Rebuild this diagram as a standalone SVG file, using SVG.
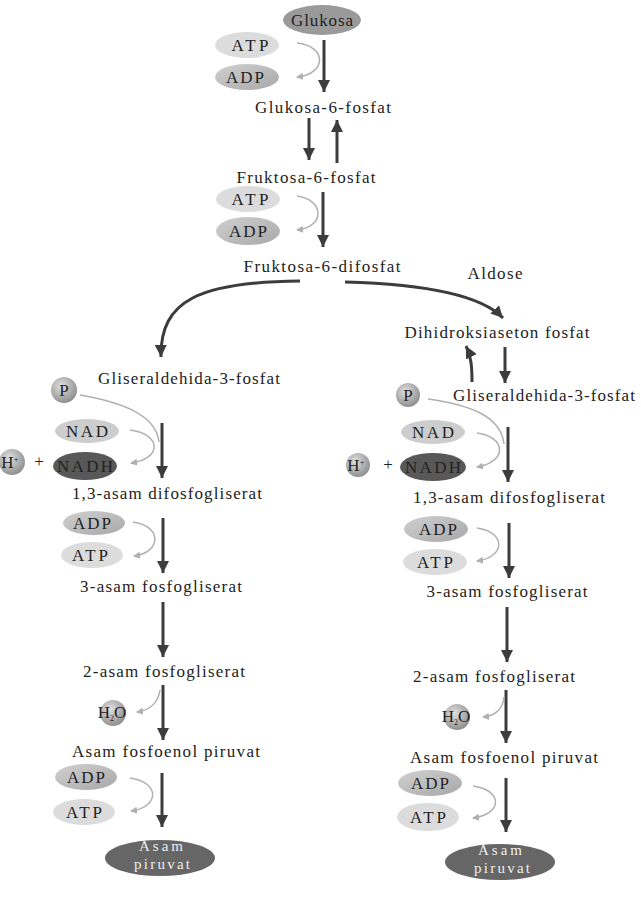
<svg xmlns="http://www.w3.org/2000/svg" width="641" height="911" viewBox="0 0 641 911">
<defs>
<marker id="ah" markerUnits="userSpaceOnUse" markerWidth="12" markerHeight="12" refX="12" refY="6" orient="auto"><path d="M0,0 L12,6 L0,12 z" fill="#3c3c3c"/></marker>
<marker id="sh" markerUnits="userSpaceOnUse" markerWidth="7" markerHeight="7" refX="6" refY="3.5" orient="auto"><path d="M0,0 L7,3.5 L0,7 z" fill="#b0b0b0"/></marker>
<radialGradient id="gball" cx="0.4" cy="0.35" r="0.7"><stop offset="0" stop-color="#e0e0e0"/><stop offset="1" stop-color="#8a8a8a"/></radialGradient>
<linearGradient id="gadp" x1="0" y1="0" x2="1" y2="1"><stop offset="0" stop-color="#d0d0d0"/><stop offset="1" stop-color="#a8a8a8"/></linearGradient>
<style>
.t{font-family:"Liberation Serif","Times New Roman",serif;font-size:17px;fill:#222;text-anchor:middle}
.e{font-family:"Liberation Serif","Times New Roman",serif;font-size:17px;fill:#222;text-anchor:middle}
.w{font-family:"Liberation Serif","Times New Roman",serif;font-size:15px;fill:#eee;text-anchor:middle}
.atp{fill:#dcdcdc}
.adp{fill:url(#gadp)}
.nad{fill:#cdcdcd}
.nadh{fill:#585858}
.ball{fill:url(#gball)}
.main{stroke:#3c3c3c;stroke-width:3;fill:none;marker-end:url(#ah)}
.thin{stroke:#b0b0b0;stroke-width:1.5;fill:none}
.tha{stroke:#b0b0b0;stroke-width:1.5;fill:none;marker-end:url(#sh)}
</style>
</defs>
<rect width="641" height="911" fill="#ffffff"/>

<g id="connectors">
<path class="main" d="M324,40 L324,92"/>
<path class="tha" d="M297,43 C327,46 327,74 297,77"/>
<path class="main" d="M309,118 L309,160"/>
<path class="main" d="M337,163 L337,120"/>
<path class="main" d="M323,192 L323,247"/>
<path class="tha" d="M297,196 C325,200 325,227 297,230"/>
<path class="main" d="M300,281 C200,282 160,300 161,357"/>
<path class="main" d="M345,282 C420,284 480,294 503,318"/>
<path class="main" d="M505,347 L505,383"/>
<path class="main" d="M472,382 C472,366 471,356 466,346"/>
<path class="thin" d="M80,395 C120,402 156,414 159,442"/>
<path class="main" d="M162,423 L162,478"/>
<path class="tha" d="M130,430 C162,434 162,459 131,463"/>
<path class="main" d="M163,518 L163,573"/>
<path class="tha" d="M133,522 C162,526 162,552 134,556"/>
<path class="main" d="M163,602 L163,657"/>
<path class="main" d="M163,685 L163,740"/>
<path class="tha" d="M160,690 C158,704 150,710 137,712"/>
<path class="main" d="M162,773 L162,827"/>
<path class="tha" d="M130,778 C160,782 160,807 131,811"/>
<path class="thin" d="M428,399 C470,405 501,416 504,444"/>
<path class="main" d="M508,427 L508,482"/>
<path class="tha" d="M477,433 C507,437 507,462 477,467"/>
<path class="main" d="M509,523 L509,578"/>
<path class="tha" d="M477,528 C506,532 506,557 477,561"/>
<path class="main" d="M507,607 L507,662"/>
<path class="main" d="M506,690 L506,743"/>
<path class="tha" d="M504,697 C503,709 495,716 483,717"/>
<path class="main" d="M506,778 L506,832"/>
<path class="tha" d="M473,786 C503,790 503,814 473,818"/>
</g>

<g id="glukosa"><ellipse cx="322" cy="20" rx="39" ry="15" fill="#9a9a9a"/><text class="t" x="322" y="26" textLength="62" lengthAdjust="spacing">Glukosa</text></g>
<g id="atp1"><ellipse class="atp" cx="247" cy="45" rx="32" ry="13"/><text class="e" x="250" y="51" textLength="37" lengthAdjust="spacing">ATP</text></g>
<g id="adp1"><ellipse class="adp" cx="247" cy="77" rx="32" ry="13"/><text class="e" x="245" y="83" textLength="38" lengthAdjust="spacing">ADP</text></g>
<g id="g6p"><text class="t" x="323" y="113" textLength="136" lengthAdjust="spacing">Glukosa-6-fosfat</text></g>
<g id="f6p"><text class="t" x="306" y="183" textLength="139" lengthAdjust="spacing">Fruktosa-6-fosfat</text></g>
<g id="atp2"><ellipse class="atp" cx="248" cy="199" rx="32" ry="13"/><text class="e" x="250" y="205" textLength="37" lengthAdjust="spacing">ATP</text></g>
<g id="adp2"><ellipse class="adp" cx="248" cy="231" rx="32" ry="14"/><text class="e" x="248" y="237" textLength="38" lengthAdjust="spacing">ADP</text></g>
<g id="f16"><text class="t" x="322" y="272" textLength="157" lengthAdjust="spacing">Fruktosa-6-difosfat</text></g>
<g id="aldose"><text class="t" x="495" y="279" textLength="55" lengthAdjust="spacing">Aldose</text></g>
<g id="dhap"><text class="t" x="497" y="338" textLength="185" lengthAdjust="spacing">Dihidroksiaseton fosfat</text></g>

<g id="gap-l"><text class="t" x="189" y="384" textLength="182" lengthAdjust="spacing">Gliseraldehida-3-fosfat</text></g>
<g id="p-l"><circle class="ball" cx="64" cy="390" r="13"/><text class="t" x="64" y="396" font-size="15">P</text></g>
<g id="nad-l"><ellipse class="nad" cx="87" cy="431" rx="32" ry="12"/><text class="e" x="87" y="437" textLength="42" lengthAdjust="spacing">NAD</text></g>
<g id="h-l"><circle class="ball" cx="12" cy="462" r="13"/><text class="t" x="10" y="468" font-size="15">H<tspan font-size="9" dy="-6">+</tspan></text><text class="t" x="39" y="467" fill="#777" font-size="12">+</text></g>
<g id="nadh-l"><ellipse class="nadh" cx="85" cy="466" rx="32" ry="14"/><text class="e" x="85" y="472" textLength="56" lengthAdjust="spacing">NADH</text></g>
<g id="bpg-l"><text class="t" x="167" y="499" textLength="190" lengthAdjust="spacing">1,3-asam difosfogliserat</text></g>
<g id="adp-l1"><ellipse class="adp" cx="94" cy="523" rx="31" ry="12"/><text class="e" x="92" y="529" textLength="38" lengthAdjust="spacing">ADP</text></g>
<g id="atp-l1"><ellipse class="atp" cx="92" cy="555" rx="31" ry="13"/><text class="e" x="90" y="561" textLength="36" lengthAdjust="spacing">ATP</text></g>
<g id="pg3-l"><text class="t" x="161" y="592" textLength="162" lengthAdjust="spacing">3-asam fosfogliserat</text></g>
<g id="pg2-l"><text class="t" x="164" y="677" textLength="162" lengthAdjust="spacing">2-asam fosfogliserat</text></g>
<g id="h2o-l"><circle class="ball" cx="113" cy="713" r="13"/><text class="t" x="112" y="718" font-size="15">H<tspan font-size="8" dy="3">2</tspan><tspan dy="-3">O</tspan></text></g>
<g id="pep-l"><text class="t" x="166" y="757" textLength="188" lengthAdjust="spacing">Asam fosfoenol piruvat</text></g>
<g id="adp-l2"><ellipse class="adp" cx="86" cy="777" rx="31" ry="13"/><text class="e" x="86" y="783" textLength="38" lengthAdjust="spacing">ADP</text></g>
<g id="atp-l2"><ellipse class="atp" cx="84" cy="812" rx="31" ry="13"/><text class="e" x="84" y="818" textLength="36" lengthAdjust="spacing">ATP</text></g>
<g id="pyr-l"><ellipse cx="160" cy="858" rx="55" ry="18" fill="#666"/><text class="w" x="161" y="851" textLength="44" lengthAdjust="spacing">Asam</text><text class="w" x="162" y="869" textLength="56" lengthAdjust="spacing">piruvat</text></g>

<g id="gap-r"><text class="t" x="544" y="401" textLength="182" lengthAdjust="spacing">Gliseraldehida-3-fosfat</text></g>
<g id="p-r"><circle class="ball" cx="408" cy="395" r="12"/><text class="t" x="408" y="401" font-size="15">P</text></g>
<g id="nad-r"><ellipse class="nad" cx="433" cy="432" rx="32" ry="12"/><text class="e" x="433" y="438" textLength="42" lengthAdjust="spacing">NAD</text></g>
<g id="h-r"><circle class="ball" cx="358" cy="465" r="12"/><text class="t" x="356" y="471" font-size="15">H<tspan font-size="9" dy="-6">+</tspan></text><text class="t" x="388" y="470" fill="#777" font-size="12">+</text></g>
<g id="nadh-r"><ellipse class="nadh" cx="433" cy="467" rx="33" ry="14"/><text class="e" x="433" y="473" textLength="56" lengthAdjust="spacing">NADH</text></g>
<g id="bpg-r"><text class="t" x="509" y="503" textLength="192" lengthAdjust="spacing">1,3-asam difosfogliserat</text></g>
<g id="adp-r1"><ellipse class="adp" cx="436" cy="529" rx="32" ry="13"/><text class="e" x="438" y="535" textLength="38" lengthAdjust="spacing">ADP</text></g>
<g id="atp-r1"><ellipse class="atp" cx="435" cy="562" rx="32" ry="13"/><text class="e" x="435" y="568" textLength="36" lengthAdjust="spacing">ATP</text></g>
<g id="pg3-r"><text class="t" x="507" y="597" textLength="161" lengthAdjust="spacing">3-asam fosfogliserat</text></g>
<g id="pg2-r"><text class="t" x="494" y="682" textLength="162" lengthAdjust="spacing">2-asam fosfogliserat</text></g>
<g id="h2o-r"><circle class="ball" cx="457" cy="717" r="13"/><text class="t" x="456" y="722" font-size="15">H<tspan font-size="8" dy="3">2</tspan><tspan dy="-3">O</tspan></text></g>
<g id="pep-r"><text class="t" x="504" y="763" textLength="188" lengthAdjust="spacing">Asam fosfoenol piruvat</text></g>
<g id="adp-r2"><ellipse class="adp" cx="430" cy="783" rx="32" ry="13"/><text class="e" x="430" y="789" textLength="38" lengthAdjust="spacing">ADP</text></g>
<g id="atp-r2"><ellipse class="atp" cx="428" cy="817" rx="31" ry="14"/><text class="e" x="428" y="823" textLength="36" lengthAdjust="spacing">ATP</text></g>
<g id="pyr-r"><ellipse cx="500" cy="862" rx="55" ry="18" fill="#666"/><text class="w" x="500" y="855" textLength="44" lengthAdjust="spacing">Asam</text><text class="w" x="502" y="873" textLength="56" lengthAdjust="spacing">piruvat</text></g>
</svg>
